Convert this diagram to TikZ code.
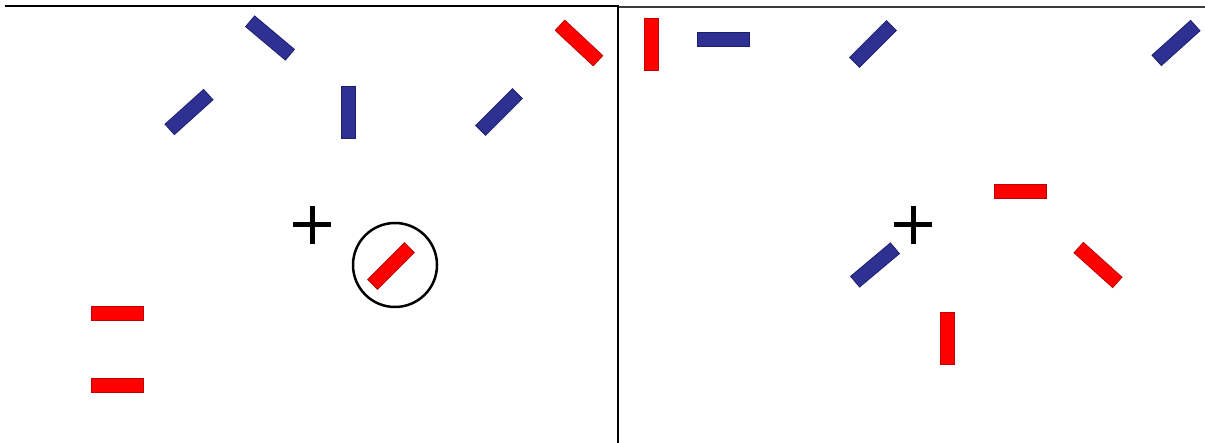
\documentclass[tikz,border=0pt]{standalone}
\definecolor{barblue}{RGB}{46,49,146}
\definecolor{barblueline}{RGB}{30,30,110}
\definecolor{barred}{RGB}{255,0,0}
\definecolor{barredline}{RGB}{190,0,0}
\definecolor{frameline}{RGB}{60,60,60}
\begin{document}
\begin{tikzpicture}[x=1pt,y=-1pt,
  bar/.style={rectangle,inner sep=0pt,minimum width=52pt,minimum height=14pt,line width=0.8pt},
  bluebar/.style={bar,fill=barblue,draw=barblueline},
  redbar/.style={bar,fill=barred,draw=barredline},
  crossarm/.style={line width=5pt,black},
  frame/.style={line width=1.2pt,frameline}]
\useasboundingbox (0,0) rectangle (1205,443);
\fill[white] (0,0) rectangle (1205,443);
% frames
\draw[frame,black] (5,6) -- (618,6) -- (618,443);
\draw[frame] (619,7) -- (1205,7);
% left panel
\node[bluebar,rotate=-40] (l1) at (270,38) {};
\node[bluebar,rotate=42] (l2) at (189,112) {};
\node[bluebar,rotate=90] (l3) at (348,112) {};
\node[bluebar,rotate=45] (l4) at (499,112) {};
\node[redbar,rotate=-43] (l5) at (579,43) {};
\node[redbar] (l6) at (117,313) {};
\node[redbar] (l7) at (117,385) {};
\node[redbar,rotate=45] (l8) at (391,266) {};
\node[circle,draw=black,line width=2.5pt,minimum size=84pt,inner sep=0pt] (ring) at (395,265) {};
\coordinate (c1) at (312,225);
\draw[crossarm] ([xshift=-19pt]c1) -- ([xshift=19pt]c1);
\draw[crossarm] ([yshift=-19pt]c1) -- ([yshift=19pt]c1);
% right panel
\node[redbar,rotate=90] (r1) at (651,44) {};
\node[bluebar] (r2) at (723,39) {};
\node[bluebar,rotate=45] (r3) at (873,44) {};
\node[bluebar,rotate=42] (r4) at (1176,43) {};
\node[redbar] (r5) at (1020,191) {};
\node[bluebar,rotate=40] (r6) at (875,265) {};
\node[redbar,rotate=-42] (r7) at (1098,265) {};
\node[redbar,rotate=90] (r8) at (947,338) {};
\coordinate (c2) at (913,225);
\draw[crossarm] ([xshift=-19pt]c2) -- ([xshift=19pt]c2);
\draw[crossarm] ([yshift=-19pt]c2) -- ([yshift=19pt]c2);
\end{tikzpicture}
\end{document}
